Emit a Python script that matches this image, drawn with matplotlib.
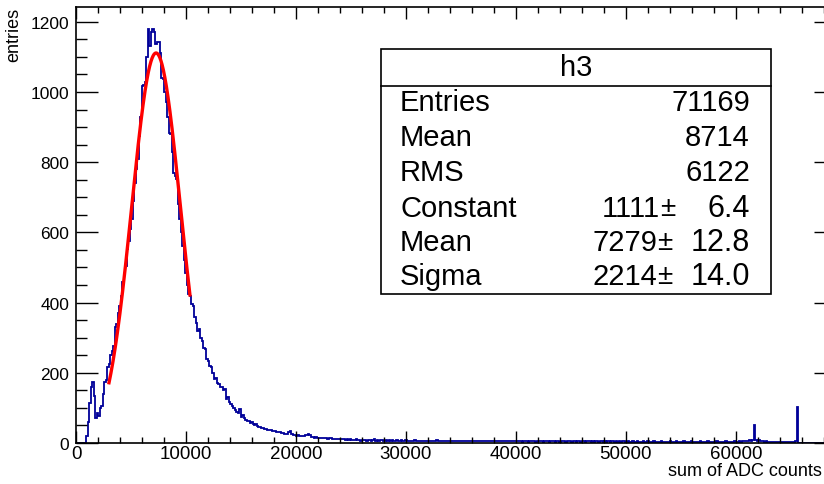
import numpy as np
import matplotlib
matplotlib.use("Agg")
import matplotlib.pyplot as plt
from matplotlib.patches import Rectangle
from matplotlib.ticker import MultipleLocator

plt.rcParams['font.family'] = ['Liberation Sans', 'DejaVu Sans']

# ---- data ----
bin_width = 136

peak_counts = [
    0, 0, 0, 0, 0, 0, 0, 20, 60, 115, 160, 174, 135, 70, 85, 78, 100, 104, 140, 174,
    180, 216, 225, 250, 262, 275, 330, 340, 370, 391, 420, 459, 480, 505, 553, 575, 610, 638, 690, 740,
    781, 810, 875, 930, 1018, 1020, 1028, 1100, 1179, 1132, 1170, 1179, 1170, 1137, 1141, 1141, 1112, 1041, 1036, 1000,
    970, 930, 884, 879, 830, 770, 760, 751, 680, 637, 600, 561, 520, 485, 450, 425, 418, 395, 389, 360,
    342, 320, 325, 300, 290, 271, 268, 240, 234, 218, 216, 200, 182, 185, 171, 168, 160, 159, 152, 154,
    125, 130, 118, 110, 106, 100, 95, 87, 85, 97, 73, 80, 70, 66, 64, 62, 58, 60, 54, 52,
    55, 48, 45, 47, 43, 42, 40, 41, 38, 37, 36, 35, 33, 34, 31, 30, 31, 29, 28, 27,
    26, 25, 30, 35, 27, 24, 22, 21, 22, 20, 21, 19, 21, 22, 23, 25, 23, 16, 17, 15,
    16, 14, 15, 14, 13, 15, 14, 13, 12, 13, 13, 12, 11, 12, 11, 10, 11, 10, 10, 11,
    9, 10, 9, 10, 9,
]
tail_25k_30k = [
    9, 8, 10, 8, 9, 7, 8, 9, 8, 7, 9, 8, 7, 8, 10, 7, 8, 7, 8, 9, 7, 6, 8, 7, 8, 7, 9, 7, 6, 8, 7, 7, 8, 6, 7, 8,
]
tail_30k_40k = [
    7, 6, 7, 5, 6, 8, 6, 7, 6, 5, 7, 6, 6, 7, 5, 6, 7, 6, 5, 6, 8, 6, 5, 7, 6, 6, 5, 7, 6, 5, 6, 7, 5, 6, 6, 5, 7, 6, 5, 6,
    5, 7, 6, 5, 6, 6, 5, 7, 5, 6, 6, 5, 6, 7, 5, 6, 5, 6, 5, 7, 6, 5, 6, 5, 5, 6, 7, 5, 6, 5, 6, 5, 6, 5,
]
tail_40k_50k = [
    5, 6, 5, 4, 6, 5, 5, 4, 6, 5, 5, 6, 4, 5, 5, 6, 5, 4, 5, 6, 5, 4, 5, 5, 6, 4, 5, 5, 4, 6, 5, 5, 4, 5, 6, 5, 4, 5, 5, 4,
    5, 6, 4, 5, 5, 4, 5, 5, 6, 4, 5, 4, 5, 5, 4, 6, 5, 4, 5, 4, 5, 5, 4, 5, 6, 4, 5, 4, 5, 4, 5, 5, 4,
]
tail_50k_60k = [
    4, 5, 4, 4, 5, 3, 4, 5, 4, 4, 3, 5, 4, 4, 5, 4, 3, 4, 5, 4, 4, 3, 4, 5, 4, 4, 3, 4, 4, 5, 3, 4, 4, 5, 4, 3, 4, 4, 5, 4,
    3, 4, 4, 5, 4, 3, 4, 4, 4, 5, 3, 4, 4, 3, 5, 4, 4, 3, 4, 4, 5, 3, 4, 4, 4, 3, 5, 4, 4, 3, 4, 4, 5, 4,
]
tail_60k_end = [
    4, 5, 4, 5, 6, 5, 6, 7, 8, 7, 9, 51, 8, 7, 9, 6, 5, 5, 4, 5, 4, 4, 3, 4, 4, 3, 4, 3, 4, 3, 3, 4, 3, 4, 3, 3, 4, 3, 4, 5,
    102, 0, 0, 0, 0, 0, 0, 0, 0, 0, 0, 0, 0, 0, 0, 0, 0, 0,
]

fit_const, fit_mean, fit_sigma = 1111.0, 7279.0, 2214.0
fit_range = (3000, 10360)

stats_title = "h3"
stats_labels = ["Entries", "Mean", "RMS", "Constant", "Mean", "Sigma"]
stats_values = ["71169", "8714", "6122", "1111", "7279", "2214"]
stats_errors = [None, None, None, "6.4", "12.8", "14.0"]

counts = np.array(peak_counts + tail_25k_30k + tail_30k_40k + tail_40k_50k
                  + tail_50k_60k + tail_60k_end, dtype=float)
edges = np.arange(len(counts) + 1) * bin_width

# ---- figure ----
W, H = 824, 485
fig = plt.figure(figsize=(W / 100, H / 100), dpi=100)
x0, x1, ytop, ybot = 76, 836, 8, 444
ax = fig.add_axes([x0 / W, 1 - ybot / H, (x1 - x0) / W, (ybot - ytop) / H])

ax.stairs(counts, edges, color='#000099', lw=1.3, baseline=0)

xf = np.linspace(fit_range[0], fit_range[1], 300)
yf = fit_const * np.exp(-0.5 * ((xf - fit_mean) / fit_sigma) ** 2)
ax.plot(xf, yf, color='#ff0000', lw=2.4)

ax.set_xlim(0, 69100)
ax.set_ylim(0, 1242)

ax.xaxis.set_major_locator(MultipleLocator(10000))
ax.xaxis.set_minor_locator(MultipleLocator(2000))
ax.yaxis.set_major_locator(MultipleLocator(200))
ax.yaxis.set_minor_locator(MultipleLocator(50))

ax.tick_params(axis='both', which='both', direction='in', top=True, right=True,
               width=1.0, color='black')
ax.tick_params(axis='x', which='major', length=8.6, pad=1.5, labelsize=13.5)
ax.tick_params(axis='x', which='minor', length=4.3)
ax.tick_params(axis='y', which='major', length=15.8, pad=5, labelsize=12.5)
ax.tick_params(axis='y', which='minor', length=7.9)
for s in ax.spines.values():
    s.set_linewidth(1.2)

fig.text(822 / W, 1 - 472 / H, "sum of ADC counts", ha='right', va='center', fontsize=13)
fig.text(14 / W, 1 - 8 / H, "entries", ha='center', va='top', rotation=90, fontsize=13)

# ---- stats box ----
bl, br, bt, bb = 381, 771, 50, 295
fig.patches.append(Rectangle((bl / W, 1 - bb / H), (br - bl) / W, (bb - bt) / H,
                             transform=fig.transFigure, facecolor='white',
                             edgecolor='black', lw=1.2, zorder=5))
fig.add_artist(plt.Line2D([bl / W, br / W], [1 - 87 / H, 1 - 87 / H],
                          transform=fig.transFigure, color='black', lw=1.2, zorder=6))
fig.text((bl + br) / 2 / W, 1 - 68 / H, stats_title, ha='center', va='center',
         fontsize=21, zorder=7)
row_y = [103, 138, 173, 209, 243, 277]
pm_x = {3: 668, 4: 665, 5: 665}
for i, (lab, val, err, yy) in enumerate(zip(stats_labels, stats_values, stats_errors, row_y)):
    fy = 1 - yy / H
    fig.text(400 / W, fy, lab, ha='left', va='center', fontsize=21, zorder=7)
    if err is None:
        fig.text(750 / W, fy, val, ha='right', va='center', fontsize=21, zorder=7)
    else:
        px = pm_x[i]
        fig.text((px - 8) / W, fy, val, ha='right', va='center', fontsize=21, zorder=7)
        fig.text(px / W, fy, "\u00b1", ha='center', va='center', fontsize=20, zorder=7)
        fig.text(750 / W, fy, err, ha='right', va='center', fontsize=22, zorder=7)

fig.savefig("out.png", dpi=100)
